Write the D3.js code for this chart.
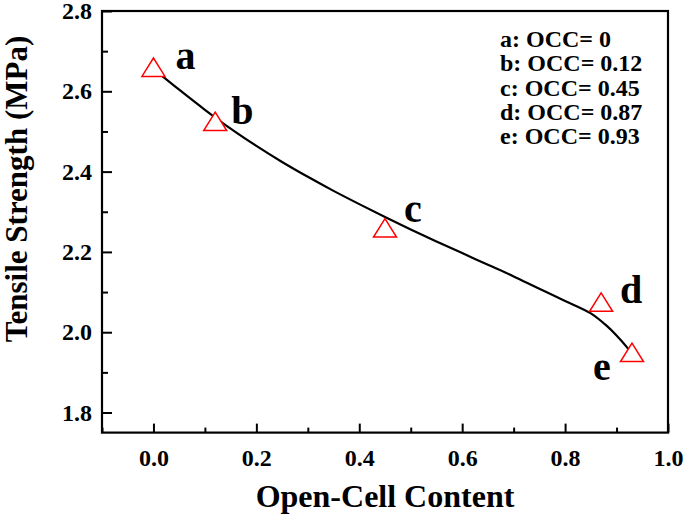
<!DOCTYPE html>
<html>
<head>
<meta charset="utf-8">
<script src="https://cdn.jsdelivr.net/npm/d3@7"></script>
<style>
  body { margin: 0; background: #fff; }
  svg text { font-family: "Liberation Serif", "Times New Roman", serif; font-weight: bold; fill: #000; }
</style>
</head>
<body>
<div id="chart"></div>
<script>
// measured samples (open-cell content vs tensile strength)
const sampleLabels = ["a", "b", "c", "d", "e"];
const occ = [0, 0.12, 0.45, 0.87, 0.93];
const strength = [2.66, 2.525, 2.26, 2.075, 1.95];

// fitted curve
const fitX = [0, 0.05, 0.1, 0.15, 0.2, 0.25, 0.3, 0.35, 0.4, 0.45, 0.5, 0.55, 0.6, 0.65, 0.7, 0.75, 0.8, 0.85, 0.88, 0.9, 0.92, 0.93];
const fitY = [2.656, 2.604, 2.554, 2.507, 2.464, 2.424, 2.387, 2.352, 2.319, 2.287, 2.256, 2.226, 2.197, 2.168, 2.139, 2.108, 2.078, 2.047, 2.017, 1.992, 1.963, 1.946];

const legendLines = ["a: OCC= 0", "b: OCC= 0.12", "c: OCC= 0.45", "d: OCC= 0.87", "e: OCC= 0.93"];

const xMajor = [0, 0.2, 0.4, 0.6, 0.8, 1.0];
const xMinor = [-0.1, 0.1, 0.3, 0.5, 0.7, 0.9];
const yMajor = [1.8, 2.0, 2.2, 2.4, 2.6, 2.8];
const yMinor = [1.9, 2.1, 2.3, 2.5, 2.7];

const width = 685, height = 516;
const plotLeft = 102, plotRight = 668, plotTop = 11, plotBottom = 432.6;

const svg = d3.select("#chart").append("svg")
	.attr("width", width)
	.attr("height", height);

const x = d3.scaleLinear().domain([-0.1, 1.0]).range([plotLeft, plotRight]);
const y = d3.scaleLinear().domain([1.75, 2.8]).range([plotBottom, plotTop]);

// ticks point inward
function styleAxis(g)
{
	g.select(".domain").remove();
	g.selectAll(".tick line").attr("stroke", "#000").attr("stroke-width", 2);
}

svg.append("g").attr("transform", `translate(0,${plotBottom})`)
	.call(d3.axisBottom(x).tickValues(xMajor).tickSize(-9).tickPadding(16).tickFormat(d3.format(".1f")))
	.call(styleAxis)
	.selectAll("text").style("font-size", "24px").attr("dy", "0.71em");

svg.append("g").attr("transform", `translate(0,${plotBottom})`)
	.call(d3.axisBottom(x).tickValues(xMinor).tickSize(-5).tickFormat(""))
	.call(styleAxis);

svg.append("g").attr("transform", `translate(${plotLeft},0)`)
	.call(d3.axisLeft(y).tickValues(yMajor).tickSize(-10).tickPadding(10).tickFormat(d3.format(".1f")))
	.call(styleAxis)
	.selectAll("text").style("font-size", "24px");

svg.append("g").attr("transform", `translate(${plotLeft},0)`)
	.call(d3.axisLeft(y).tickValues(yMinor).tickSize(-6).tickFormat(""))
	.call(styleAxis);

// frame
svg.append("rect")
	.attr("x", plotLeft).attr("y", plotTop)
	.attr("width", plotRight - plotLeft).attr("height", plotBottom - plotTop)
	.attr("fill", "none").attr("stroke", "#000").attr("stroke-width", 2.2);

// fit curve
const line = d3.line()
	.x(d => x(d[0]))
	.y(d => y(d[1]))
	.curve(d3.curveCatmullRom);

svg.append("path")
	.datum(fitX.map((v, i) => [v, fitY[i]]))
	.attr("d", line)
	.attr("fill", "none")
	.attr("stroke", "#000")
	.attr("stroke-width", 2.2);

// hollow triangles
const triW = 23, triH = 18.4;
const pts = occ.map((v, i) => ({ x: v, y: strength[i], label: sampleLabels[i] }));

svg.selectAll(".marker").data(pts).enter().append("path")
	.attr("class", "marker")
	.attr("transform", d => `translate(${x(d.x)},${y(d.y)})`)
	.attr("d", `M0,${-triH / 2}L${triW / 2},${triH / 2}L${-triW / 2},${triH / 2}Z`)
	.attr("fill", "#fff")
	.attr("stroke", "#ff0000")
	.attr("stroke-width", 1.5);

// letter labels next to each point
const labelOffsets = { a: [22, 2], b: [16, 3], c: [19, -6], d: [19, 1], e: [-39, 28] };

svg.selectAll(".pt-label").data(pts).enter().append("text")
	.attr("class", "pt-label")
	.attr("x", d => x(d.x) + labelOffsets[d.label][0])
	.attr("y", d => y(d.y) + labelOffsets[d.label][1])
	.style("font-size", "40px")
	.text(d => d.label);

// legend text block
svg.selectAll(".legend").data(legendLines).enter().append("text")
	.attr("class", "legend")
	.attr("x", 500)
	.attr("y", (d, i) => 47 + i * 24.3)
	.style("font-size", "24px")
	.text(d => d);

// axis titles
svg.append("text")
	.attr("x", (plotLeft + plotRight) / 2)
	.attr("y", 507)
	.attr("text-anchor", "middle")
	.style("font-size", "32px")
	.text("Open-Cell Content");

svg.append("text")
	.attr("transform", "translate(27,189) rotate(-90)")
	.attr("text-anchor", "middle")
	.style("font-size", "31px")
	.text("Tensile Strength (MPa)");
</script>
</body>
</html>
